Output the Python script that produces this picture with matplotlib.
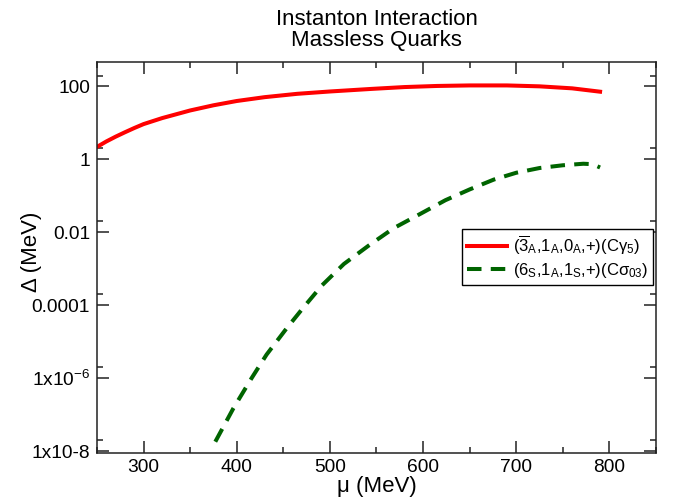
import numpy as np
import matplotlib
matplotlib.use('Agg')
import matplotlib.pyplot as plt
from matplotlib.ticker import FixedLocator, FixedFormatter, MultipleLocator

plt.rcParams['font.family'] = ['Liberation Sans', 'DejaVu Sans']
plt.rcParams['mathtext.fontset'] = 'custom'
plt.rcParams['mathtext.rm'] = 'Liberation Sans'
plt.rcParams['mathtext.it'] = 'Liberation Sans:italic'

# red curve: (3A,1A,0A,+)(C gamma5)
mu_red = [250, 260, 270, 280, 290, 300, 320, 350, 375, 400, 430, 465, 500,
          545, 580, 615, 650, 690, 725, 760, 790]
gap_red = [2.2, 3.1, 4.2, 5.55, 7.25, 9.3, 13.6, 22, 30.5, 40, 51, 63,
           73, 86, 96.5, 103.5, 107, 107, 101, 89, 72]

# green curve: (6S,1A,1S,+)(C sigma03)
mu_green = [377, 396.5, 416, 432, 454, 472, 491.5, 515, 541.5, 568.5, 597,
            624, 650, 676, 700, 725, 750, 772, 782, 790]
gap_green = [1.8e-8, 1.5e-7, 1.0e-6, 4.4e-6, 2.4e-5, 8.9e-5, 3.5e-4, 1.35e-3,
             4.3e-3, 0.013, 0.032, 0.076, 0.15, 0.28, 0.43, 0.58, 0.69,
             0.76, 0.74, 0.60]

ytick_vals = [1e-8, 1e-6, 1e-4, 1e-2, 1, 100]
ytick_labels = ['1x10-8', r'1x10$^{-6}$', '0.0001', '0.01', '1', '100']

fig = plt.figure(figsize=(6.73, 5.0), dpi=100)
ax = fig.add_axes([0.1441, 0.095, 0.8306, 0.781])

ax.plot(mu_red, gap_red, color='#ff0000', lw=2.9,
        label=r'$(\overline{3}_{\mathrm{A}}{,}1_{\mathrm{A}}{,}0_{\mathrm{A}}{,}{+})(\mathrm{Cγ}_5)$')
ax.plot(mu_green, gap_green, color='#006400', lw=2.9, dashes=(3.6, 2.3),
        dash_capstyle='butt',
        label=r'$(6_{\mathrm{S}}{,}1_{\mathrm{A}}{,}1_{\mathrm{S}}{,}{+})(\mathrm{Cσ}_{03})$')

ax.set_yscale('log')
ax.set_xlim(250, 850)
ax.set_ylim(0.91e-8, 470)

ax.xaxis.set_major_locator(MultipleLocator(100))
ax.xaxis.set_minor_locator(MultipleLocator(50))
ax.yaxis.set_major_locator(FixedLocator(ytick_vals))
ax.yaxis.set_major_formatter(FixedFormatter(ytick_labels))
ax.yaxis.set_minor_locator(FixedLocator([2 * v for v in ytick_vals]))
ax.yaxis.set_minor_formatter(FixedFormatter([''] * 6))

ax.tick_params(which='both', direction='in', top=True, right=True,
               width=1.1, labelsize=13.8, color='#222222')
ax.tick_params(which='major', length=8.4, pad=5)
ax.tick_params(which='minor', length=4.3)
for s in ax.spines.values():
    s.set_linewidth(1.1)
    s.set_color('#222222')

ax.set_xlabel('μ (MeV)', fontsize=16, labelpad=0)
ax.set_ylabel('Δ (MeV)', fontsize=16)
ax.yaxis.set_label_coords(-0.098, 0.515)

fig.text(0.5594, 0.94, 'Instanton Interaction\nMassless Quarks',
         ha='center', va='center', fontsize=16, linespacing=0.97)

leg = ax.legend(loc='upper right', bbox_to_anchor=(0.995, 0.573),
                borderaxespad=0, fontsize=12, handlelength=2.4,
                handletextpad=0.35, fancybox=False, framealpha=1,
                edgecolor='black', borderpad=0.3, labelspacing=0.25)
leg.get_frame().set_linewidth(1.0)

fig.savefig('out.png', dpi=100)
